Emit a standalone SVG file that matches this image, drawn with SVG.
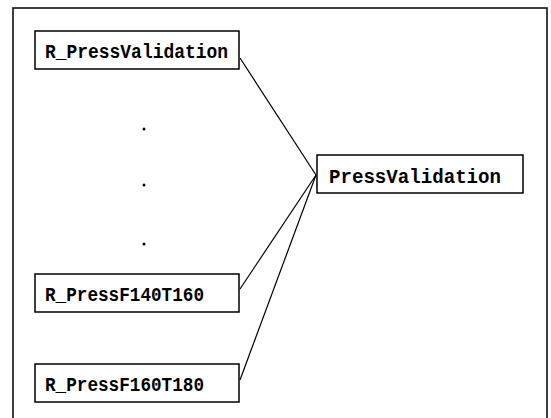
<svg xmlns="http://www.w3.org/2000/svg" width="551" height="418" viewBox="0 0 551 418">
<style>
.box{fill:#fff;stroke:#000;stroke-width:1.5}
.t{font-family:"Liberation Mono",monospace;font-weight:bold;font-size:20px;fill:#000}
.c{stroke:#000;stroke-width:1.2;fill:none}
</style>
<rect x="0" y="0" width="551" height="418" fill="#fff"/>
<rect x="13" y="8" width="534" height="420" fill="none" stroke="#000" stroke-width="1.5"/>
<g id="connectors">
<line class="c" x1="240" y1="58" x2="316" y2="175"/>
<line class="c" x1="240" y1="289" x2="316" y2="175"/>
<line class="c" x1="240" y1="380" x2="316" y2="175"/>
</g>
<g id="dots" fill="#000">
<circle cx="144" cy="129" r="1.5"/>
<circle cx="144" cy="185" r="1.5"/>
<circle cx="144" cy="244" r="1.5"/>
</g>
<g id="n1">
<rect class="box" x="35" y="31" width="204" height="38"/>
<text class="t" x="45" y="58" textLength="183" lengthAdjust="spacingAndGlyphs">R_PressValidation</text>
</g>
<g id="n2">
<rect class="box" x="317" y="155" width="206" height="38"/>
<text class="t" x="329" y="183" textLength="172" lengthAdjust="spacingAndGlyphs">PressValidation</text>
</g>
<g id="n3">
<rect class="box" x="35" y="274" width="204" height="38"/>
<text class="t" x="45" y="301" textLength="159" lengthAdjust="spacingAndGlyphs">R_PressF140T160</text>
</g>
<g id="n4">
<rect class="box" x="35" y="364" width="204" height="38"/>
<text class="t" x="45" y="391" textLength="159" lengthAdjust="spacingAndGlyphs">R_PressF160T180</text>
</g>
</svg>
